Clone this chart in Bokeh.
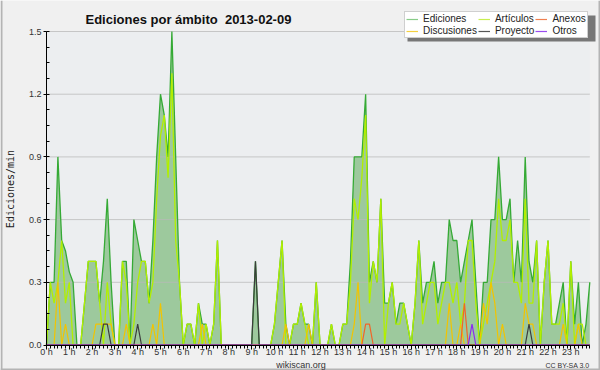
import math
from bokeh.plotting import figure
from bokeh.models import (FixedTicker, Label, Legend, LegendItem, BoxAnnotation,
                          NumeralTickFormatter, Range1d, ColumnDataSource)
from bokeh.embed import file_html
from bokeh.resources import INLINE

# ---------------- data (10-minute slots, edits per minute) ----------------
hour_ticks = list(range(24))
hour_labels = [f"{h} h" for h in hour_ticks]
y_ticks = [0.0, 0.3, 0.6, 0.9, 1.2, 1.5]
y_max = 1.5

ediciones = [
    0.0, 0.3, 0.3, 0.9, 0.5, 0.45,
    0.35, 0.3, 0.0, 0.0, 0.2, 0.4,
    0.4, 0.4, 0.2, 0.4, 0.7, 0.3,
    0.0, 0.0, 0.4, 0.4, 0.0, 0.6,
    0.5, 0.4, 0.4, 0.2, 0.5, 0.9,
    1.2, 1.1, 0.9, 1.5, 0.9, 0.3,
    0.0, 0.1, 0.1, 0.0, 0.2, 0.1,
    0.1, 0.0, 0.1, 0.5, 0.0, 0.0,
    0.0, 0.0, 0.0, 0.0, 0.0, 0.0,
    0.0, 0.4, 0.0, 0.0, 0.0, 0.0,
    0.1, 0.3, 0.5, 0.1, 0.0, 0.1,
    0.1, 0.2, 0.1, 0.1, 0.0, 0.3,
    0.0, 0.0, 0.0, 0.1, 0.0, 0.0,
    0.1, 0.1, 0.4, 0.9, 0.9, 0.9,
    1.2, 0.3, 0.4, 0.3, 0.7, 0.2,
    0.2, 0.3, 0.1, 0.2, 0.2, 0.1,
    0.0, 0.2, 0.5, 0.2, 0.3, 0.3,
    0.4, 0.2, 0.3, 0.3, 0.6, 0.5,
    0.5, 0.3, 0.4, 0.5, 0.6, 0.3,
    0.0, 0.3, 0.3, 0.6, 0.6, 0.9,
    0.6, 0.6, 0.7, 0.3, 0.5, 0.3,
    0.9, 0.4, 0.3, 0.5, 0.0, 0.3,
    0.5, 0.1, 0.1, 0.2, 0.3, 0.0,
    0.4, 0.1, 0.3, 0.0, 0.1, 0.3,
]

articulos = [
    0.0, 0.3, 0.2, 0.3, 0.5, 0.2,
    0.3, 0.0, 0.0, 0.0, 0.2, 0.4,
    0.4, 0.4, 0.2, 0.0, 0.3, 0.1,
    0.0, 0.0, 0.4, 0.3, 0.0, 0.1,
    0.3, 0.4, 0.4, 0.2, 0.3, 0.7,
    1.0, 1.1, 0.8, 1.3, 0.5, 0.3,
    0.0, 0.1, 0.1, 0.0, 0.2, 0.0,
    0.1, 0.0, 0.1, 0.5, 0.0, 0.0,
    0.0, 0.0, 0.0, 0.0, 0.0, 0.0,
    0.0, 0.0, 0.0, 0.0, 0.0, 0.0,
    0.1, 0.3, 0.5, 0.0, 0.0, 0.1,
    0.1, 0.2, 0.1, 0.0, 0.0, 0.3,
    0.0, 0.0, 0.0, 0.1, 0.0, 0.0,
    0.1, 0.1, 0.3, 0.7, 0.6, 0.8,
    1.1, 0.2, 0.4, 0.3, 0.7, 0.0,
    0.2, 0.3, 0.1, 0.1, 0.2, 0.1,
    0.0, 0.2, 0.5, 0.1, 0.2, 0.3,
    0.3, 0.1, 0.2, 0.3, 0.3, 0.2,
    0.3, 0.1, 0.2, 0.5, 0.5, 0.2,
    0.0, 0.1, 0.2, 0.3, 0.4, 0.7,
    0.5, 0.5, 0.6, 0.3, 0.3, 0.2,
    0.7, 0.2, 0.2, 0.5, 0.0, 0.3,
    0.5, 0.1, 0.1, 0.1, 0.2, 0.0,
    0.4, 0.0, 0.1, 0.1, 0.0, 0.0,
]

discusiones = [
    0.0, 0.0, 0.0, 0.3, 0.0, 0.1,
    0.0, 0.0, 0.0, 0.0, 0.0, 0.0,
    0.0, 0.1, 0.1, 0.1, 0.1, 0.1,
    0.0, 0.0, 0.0, 0.1, 0.0, 0.0,
    0.0, 0.0, 0.0, 0.0, 0.1, 0.0,
    0.2, 0.0, 0.0, 0.0, 0.0, 0.0,
    0.0, 0.0, 0.0, 0.0, 0.0, 0.1,
    0.0, 0.0, 0.0, 0.0, 0.0, 0.0,
    0.0, 0.0, 0.0, 0.0, 0.0, 0.0,
    0.0, 0.0, 0.0, 0.0, 0.0, 0.0,
    0.0, 0.0, 0.0, 0.1, 0.0, 0.0,
    0.0, 0.0, 0.0, 0.1, 0.0, 0.0,
    0.0, 0.0, 0.0, 0.0, 0.0, 0.0,
    0.0, 0.0, 0.0, 0.1, 0.3, 0.0,
    0.0, 0.0, 0.0, 0.0, 0.0, 0.0,
    0.0, 0.0, 0.0, 0.0, 0.0, 0.0,
    0.0, 0.0, 0.0, 0.0, 0.0, 0.0,
    0.0, 0.0, 0.0, 0.0, 0.2, 0.0,
    0.0, 0.1, 0.0, 0.0, 0.0, 0.0,
    0.0, 0.2, 0.1, 0.3, 0.2, 0.0,
    0.1, 0.0, 0.0, 0.0, 0.0, 0.0,
    0.2, 0.1, 0.1, 0.0, 0.0, 0.0,
    0.0, 0.0, 0.0, 0.0, 0.1, 0.0,
    0.0, 0.0, 0.1, 0.0, 0.0, 0.0,
]

proyecto = [0.0] * 144
for i, v in [(15, 0.1), (16, 0.1), (24, 0.1), (55, 0.4), (127, 0.1)]:
    proyecto[i] = v

anexos = [0.0] * 144
for i, v in [(84, 0.1), (85, 0.1), (110, 0.2)]:
    anexos[i] = v

otros = [0.0] * 144
for i, v in [(112, 0.1)]:
    otros[i] = v

hours = [i / 6 for i in range(len(ediciones))]
x_last = hours[-1]

src = ColumnDataSource(dict(h=hours, e=ediciones, a=articulos, d=discusiones,
                            p=proyecto, x=anexos, o=otros, z=[0.0] * len(hours)))

# ---------------- layout (pixels inside the figure) ----------------
W, H = 600, 370
PX_L, PX_R = 46.0, 589.3      # data x = 0 .. last slot
PY_T, PY_B = 31.0, 344.5      # data y = 1.5 .. 0
sx = (PX_R - PX_L) / x_last
sy = (PY_B - PY_T) / y_max
x_range = Range1d(-PX_L / sx, x_last + (W - PX_R) / sx)
y_range = Range1d(-(H - PY_B) / sy, y_max + PY_T / sy)

FONT = "Liberation Sans"
p = figure(width=W, height=H, output_backend="svg", toolbar_location=None,
           x_range=x_range, y_range=y_range,
           min_border=0, min_border_left=0, min_border_right=0,
           min_border_top=0, min_border_bottom=0)
p.background_fill_color = "#f0f0f0"
p.border_fill_color = "#f0f0f0"
p.outline_line_color = None
p.xgrid.visible = False
p.ygrid.visible = False

# plot-area background
p.add_layout(BoxAnnotation(left=0, right=x_last, bottom=0, top=y_max,
                           fill_color="#eceef0", fill_alpha=1, line_color=None,
                           level="underlay"))

# image frame (left, right, bottom edges)
for l, r, b, t in [(0, 2, 0, H), (W - 2, W, 0, H), (0, W, 0, 2)]:
    p.add_layout(BoxAnnotation(left=l, right=r, bottom=b, top=t,
                               left_units="screen", right_units="screen",
                               bottom_units="screen", top_units="screen",
                               fill_color="#b4b4b4", fill_alpha=1,
                               line_color=None))

# axes (drawn at the data origin)
p.xaxis.fixed_location = 0
p.yaxis.fixed_location = 0
p.xaxis.bounds = (0, x_last)
p.yaxis.bounds = (0, y_max)
p.xaxis.ticker = FixedTicker(ticks=hour_ticks, minor_ticks=hours)
p.xaxis.major_label_overrides = {h: lab for h, lab in zip(hour_ticks, hour_labels)}
p.yaxis.ticker = FixedTicker(ticks=y_ticks,
                             minor_ticks=[k * 0.075 for k in range(21)])
p.yaxis.formatter = NumeralTickFormatter(format="0.0")
for ax in (p.xaxis[0], p.yaxis[0]):
    ax.axis_line_color = "black"
    ax.axis_line_width = 1
    ax.major_tick_line_color = "black"
    ax.minor_tick_line_color = "black"
    ax.major_label_text_font = FONT
    ax.major_label_text_font_size = "9px"
    ax.major_label_text_color = "#333333"
p.xaxis.major_tick_in = 0
p.xaxis.major_tick_out = 4
p.xaxis.minor_tick_in = 0
p.xaxis.minor_tick_out = 3
p.xaxis.major_label_standoff = -2
p.yaxis.major_tick_in = 0
p.yaxis.major_tick_out = 3
p.yaxis.minor_tick_in = 3
p.yaxis.minor_tick_out = 0
p.yaxis.major_label_standoff = 2

# series
C_E_FILL = "#9dc99d"
C_E = "#35aa35"
C_A = "#b2ef00"
C_D = "#f2c400"
C_X = "#f26428"
C_P = "#3c3c3c"
C_O = "#8a2cf0"

p.varea(x="h", y1="z", y2="e", source=src, fill_color=C_E_FILL, fill_alpha=1)
# horizontal grid lines at the y ticks, over the fill
p.segment(x0=[0.0] * len(y_ticks[1:]), x1=[x_last] * len(y_ticks[1:]),
          y0=y_ticks[1:], y1=y_ticks[1:], line_color="#b8b8b8",
          line_alpha=0.75, line_width=1)
p.line("h", "e", source=src, line_color=C_E, line_width=1.3)
p.line("h", "a", source=src, line_color=C_A, line_width=1.3)
p.line("h", "d", source=src, line_color=C_D, line_width=1.2)
p.line("h", "x", source=src, line_color=C_X, line_width=1.2)
p.line("h", "p", source=src, line_color=C_P, line_width=1.2)
p.line("h", "o", source=src, line_color=C_O, line_width=1.2)

# legend (swatches: one hidden point each so the legend glyph gets its colour)
sw = {}
for name, col in [("Ediciones", "#88cc88"), ("Artículos", "#c8ee50"),
                  ("Anexos", "#f08050"), ("Discusiones", "#f5d040"),
                  ("Proyecto", "#555555"), ("Otros", "#9a4cf0")]:
    sw[name] = p.line(x=[float("nan")], y=[float("nan")], line_color=col,
                      line_width=1.2)

LG_X, LG_TOP, LG_W, LG_H = 404, 12, 188, 26
shadow = BoxAnnotation(left=LG_X + 3, right=LG_X + LG_W + 3,
                       bottom=H - LG_TOP - LG_H - 3, top=H - LG_TOP - 3,
                       left_units="screen", right_units="screen",
                       bottom_units="screen", top_units="screen",
                       fill_color="#777777", fill_alpha=1, line_color=None)
p.add_layout(shadow)

legend = Legend(items=[LegendItem(label=k, renderers=[v]) for k, v in sw.items()],
                location=(LG_X, H - LG_TOP - LG_H), orientation="horizontal",
                ncols=3, label_text_font=FONT, label_text_font_size="10px",
                label_text_color="#222222",
                glyph_width=12, glyph_height=10, label_height=10,
                label_standoff=5, spacing=1, padding=1, margin=0,
                border_line_color="#a0a0a0", background_fill_color="white",
                background_fill_alpha=1)
p.add_layout(legend)

# texts
p.add_layout(Label(x=85, y=H - 18.5, x_units="screen", y_units="screen",
                   text="Ediciones por ámbito \u00a02013-02-09", text_font=FONT,
                   text_font_style="bold", text_font_size="13px",
                   text_baseline="alphabetic", text_color="#111111"))
p.add_layout(Label(x=10, y=H - 188.5, x_units="screen", y_units="screen",
                   text="Ediciones/min", text_font="DejaVu Sans Mono",
                   text_font_size="10px", angle=math.pi / 2,
                   text_align="center", text_baseline="middle",
                   text_color="#222222"))
p.add_layout(Label(x=300.5, y=H - 364, x_units="screen", y_units="screen",
                   text="wikiscan.org", text_font=FONT, text_font_size="9px",
                   text_align="center", text_baseline="alphabetic",
                   text_color="#333333"))
p.add_layout(Label(x=589, y=H - 364.5, x_units="screen", y_units="screen",
                   text="CC BY-SA 3.0", text_font=FONT, text_font_size="7px",
                   text_align="right", text_baseline="alphabetic",
                   text_color="#333333"))

open("out.html", "w").write(file_html(p, INLINE))
